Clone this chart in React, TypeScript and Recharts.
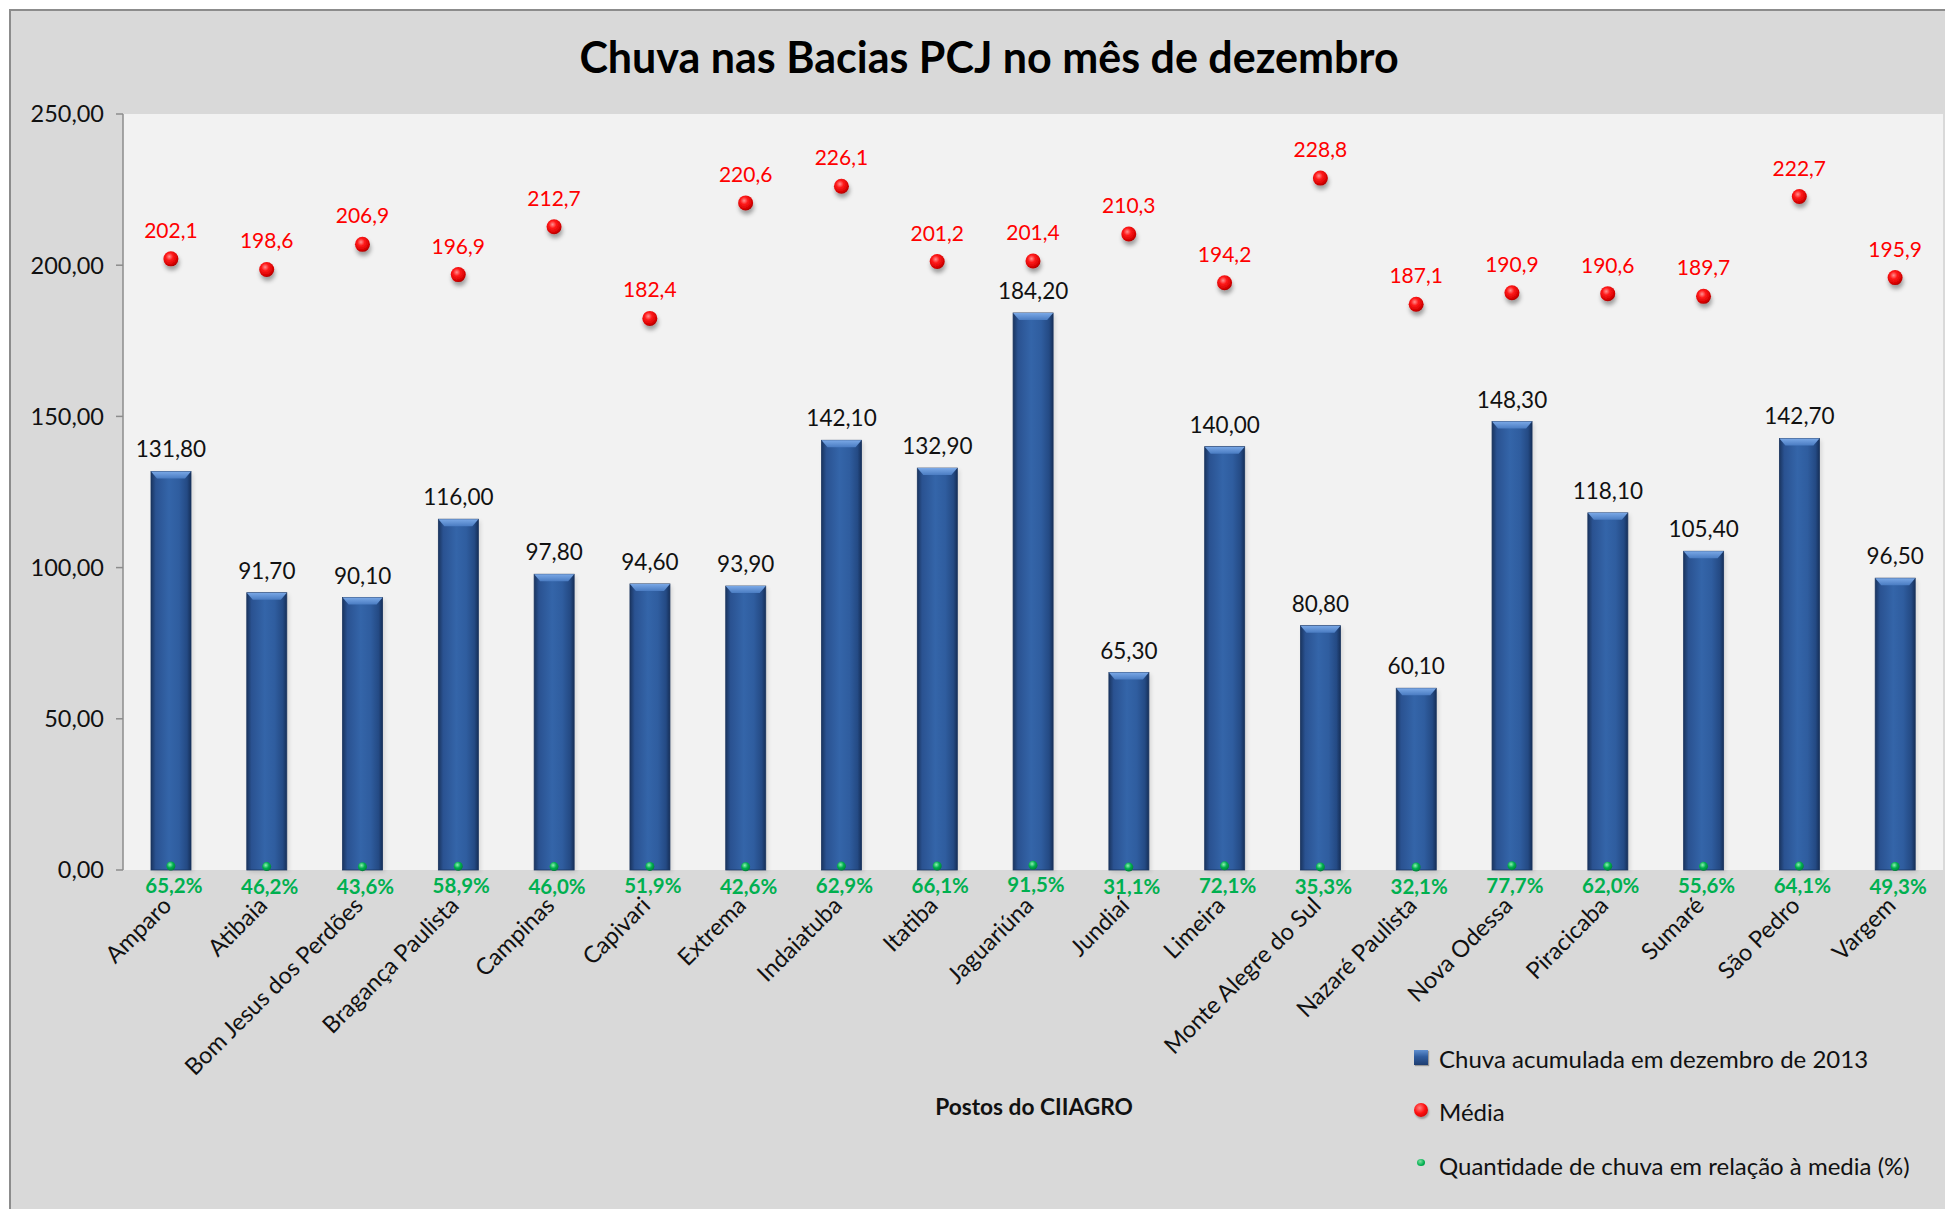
import React from "react";
import {
  Bar,
  CartesianGrid,
  ComposedChart,
  Line,
  XAxis,
  YAxis,
} from "recharts";

const categories = [
  "Amparo",
  "Atibaia",
  "Bom Jesus dos Perdões",
  "Bragança Paulista",
  "Campinas",
  "Capivari",
  "Extrema",
  "Indaiatuba",
  "Itatiba",
  "Jaguariúna",
  "Jundiaí",
  "Limeira",
  "Monte Alegre do Sul",
  "Nazaré Paulista",
  "Nova Odessa",
  "Piracicaba",
  "Sumaré",
  "São Pedro",
  "Vargem",
];

const chuvaDezembro = [
  131.8, 91.7, 90.1, 116.0, 97.8, 94.6, 93.9, 142.1, 132.9, 184.2, 65.3, 140.0,
  80.8, 60.1, 148.3, 118.1, 105.4, 142.7, 96.5,
];

const mediaHistorica = [
  202.1, 198.6, 206.9, 196.9, 212.7, 182.4, 220.6, 226.1, 201.2, 201.4, 210.3,
  194.2, 228.8, 187.1, 190.9, 190.6, 189.7, 222.7, 195.9,
];

const percentual = [
  65.2, 46.2, 43.6, 58.9, 46.0, 51.9, 42.6, 62.9, 66.1, 91.5, 31.1, 72.1, 35.3,
  32.1, 77.7, 62.0, 55.6, 64.1, 49.3,
];

const yTicks = [0, 50, 100, 150, 200, 250];
const boundaryTicks = categories.map((_, i) => i).concat(categories.length);

const data = categories.map((name, i) => ({
  name,
  chuva: chuvaDezembro[i],
  media: mediaHistorica[i],
  pct: percentual[i] / 100,
  pctLabel: percentual[i],
}));

const FONT = "Lato, 'Noto Sans', sans-serif";
const AXIS_GREY = "#8c8c8c";

const br = (v: number, d: number) => v.toFixed(d).replace(".", ",");

const BarShape = (props: any) => {
  const { x, y, width, height, payload } = props;
  if (!width || height == null) return null;
  const bevel = Math.min(7, height / 2);
  return (
    <g>
      <rect
        x={x + 2}
        y={y + 2}
        width={width}
        height={height}
        fill="#000"
        opacity={0.12}
        filter="url(#soft)"
      />
      <rect
        x={x}
        y={y}
        width={width}
        height={height}
        fill="url(#barBody)"
        stroke="#1b355f"
        strokeWidth={0.8}
      />
      <polygon
        points={`${x},${y} ${x + width},${y} ${x + width - 6},${y + bevel} ${x + 6},${y + bevel}`}
        fill="url(#barTop)"
      />
      <text
        x={x + width / 2}
        y={y - 14}
        textAnchor="middle"
        fontFamily={FONT}
        fontSize={22.5}
        fill="#111"
      >
        {br(payload.chuva, 2)}
      </text>
    </g>
  );
};

const MediaDot = (props: any) => {
  const { cx, cy, payload, index } = props;
  if (cx == null || cy == null) return null;
  return (
    <g key={`m-${index}`}>
      <circle cx={cx} cy={cy} r={7.5} fill="url(#redBall)" filter="url(#dotShadow)" />
      <text
        x={cx}
        y={cy - 21}
        textAnchor="middle"
        fontFamily={FONT}
        fontSize={21}
        fill="#ff0000"
      >
        {br(payload.media, 1)}
      </text>
    </g>
  );
};

const PctDot = (props: any) => {
  const { cx, cy, payload, index } = props;
  if (cx == null || cy == null) return null;
  return (
    <g key={`p-${index}`}>
      <circle cx={cx} cy={cy - 2} r={4.5} fill="url(#greenBall)" />
      <text
        x={cx + 3}
        y={cy + 25}
        textAnchor="middle"
        fontFamily={FONT}
        fontWeight={700}
        fontSize={20.5}
        fill="#00b050"
      >
        {br(payload.pctLabel, 1) + "%"}
      </text>
    </g>
  );
};

const CategoryTick = (props: any) => {
  const { x, y, payload } = props;
  const ax = x + 2;
  const ay = y + 37;
  return (
    <text
      x={ax}
      y={ay}
      transform={`rotate(-45, ${ax}, ${ay})`}
      textAnchor="end"
      fontFamily={FONT}
      fontSize={23.5}
      fill="#111"
    >
      {payload.value}
    </text>
  );
};

const legendItems = [
  { label: "Chuva acumulada em dezembro de 2013", kind: "bar", cy: 1059 },
  { label: "Média", kind: "media", cy: 1112 },
  { label: "Quantidade de chuva em relação à media (%)", kind: "pct", cy: 1166 },
];

const LegendIcon = ({ kind }: { kind: string }) => {
  if (kind === "bar")
    return (
      <div
        style={{
          width: 14,
          height: 15,
          marginTop: -4,
          background: "linear-gradient(180deg,#5f8fd0 0%,#2f5c9e 45%,#1e3d70 100%)",
          boxShadow: "1px 1px 1px rgba(0,0,0,0.3)",
        }}
      />
    );
  if (kind === "media")
    return (
      <div
        style={{
          width: 14,
          height: 14,
          marginTop: -4,
          borderRadius: "50%",
          background: "radial-gradient(circle at 40% 35%,#ff8080 0%,#ff1010 45%,#b00000 100%)",
          boxShadow: "1px 2px 2px rgba(0,0,0,0.3)",
        }}
      />
    );
  return (
    <div
      style={{
        width: 8,
        height: 7,
        marginLeft: 3,
        marginTop: -8,
        borderRadius: "50%",
        background: "radial-gradient(circle at 40% 35%,#7de0a0 0%,#00b050 60%,#00803a 100%)",
      }}
    />
  );
};

export default function App() {
  return (
    <div
      style={{
        position: "fixed",
        left: 0,
        top: 0,
        width: 1945,
        height: 1209,
        background: "#ffffff",
        overflow: "hidden",
      }}
    >
      <div
        style={{
          position: "absolute",
          left: 9,
          top: 9,
          width: 1960,
          height: 1230,
          background: "#d9d9d9",
          border: `2px solid ${AXIS_GREY}`,
        }}
      />
      <div
        style={{
          position: "absolute",
          left: 489,
          width: 1000,
          top: 28,
          textAlign: "center",
          fontFamily: FONT,
          fontWeight: 700,
          fontSize: 43,
          lineHeight: "58px",
          color: "#000",
        }}
      >
        Chuva nas Bacias PCJ no mês de dezembro
      </div>
      <div style={{ position: "absolute", left: 0, top: 0 }}>
        <ComposedChart
          width={1945}
          height={1209}
          data={data}
          margin={{ top: 114, right: 2, left: 23, bottom: 139 }}
        >
          <defs>
            <linearGradient id="barBody" x1="0" y1="0" x2="1" y2="0">
              <stop offset="0%" stopColor="#1a3560" />
              <stop offset="12%" stopColor="#2a5291" />
              <stop offset="45%" stopColor="#3465a9" />
              <stop offset="70%" stopColor="#2f5d9f" />
              <stop offset="90%" stopColor="#244a84" />
              <stop offset="100%" stopColor="#16305a" />
            </linearGradient>
            <linearGradient id="barTop" x1="0" y1="0" x2="0" y2="1">
              <stop offset="0%" stopColor="#7aa8e6" />
              <stop offset="100%" stopColor="#4a7cc2" />
            </linearGradient>
            <radialGradient id="redBall" cx="0.4" cy="0.35" r="0.7">
              <stop offset="0%" stopColor="#ff9090" />
              <stop offset="35%" stopColor="#ff1a1a" />
              <stop offset="80%" stopColor="#d40000" />
              <stop offset="100%" stopColor="#9a0000" />
            </radialGradient>
            <radialGradient id="greenBall" cx="0.4" cy="0.35" r="0.7">
              <stop offset="0%" stopColor="#8ff0b0" />
              <stop offset="50%" stopColor="#00b050" />
              <stop offset="100%" stopColor="#007a35" />
            </radialGradient>
            <filter id="dotShadow" x="-50%" y="-50%" width="200%" height="250%">
              <feDropShadow dx="1" dy="4" stdDeviation="2" floodColor="#000" floodOpacity="0.35" />
            </filter>
            <filter id="soft" x="-20%" y="-5%" width="140%" height="110%">
              <feGaussianBlur stdDeviation="2" />
            </filter>
          </defs>
          <CartesianGrid horizontal={false} vertical={false} fill="#f2f2f2" />
          <XAxis
            xAxisId="bounds"
            type="number"
            domain={[0, categories.length]}
            ticks={boundaryTicks}
            tick={false}
            height={0}
            tickSize={8}
            axisLine={{ stroke: AXIS_GREY, strokeWidth: 1.5 }}
            tickLine={{ stroke: AXIS_GREY, strokeWidth: 1.5 }}
            allowDataOverflow
          />
          <XAxis
            dataKey="name"
            interval={0}
            height={200}
            axisLine={false}
            tickLine={false}
            tickSize={0}
            tickMargin={0}
            tick={<CategoryTick />}
          />
          <YAxis
            domain={[0, 250]}
            ticks={yTicks}
            width={100}
            tickFormatter={(v) => br(Number(v), 2)}
            tick={{ fill: "#111", fontSize: 23.5, fontFamily: FONT }}
            axisLine={{ stroke: AXIS_GREY, strokeWidth: 1.5 }}
            tickLine={{ stroke: AXIS_GREY, strokeWidth: 1.5 }}
            tickSize={7}
            tickMargin={12}
          />
          <Bar
            dataKey="chuva"
            barSize={40}
            shape={<BarShape />}
            isAnimationActive={false}
          />
          <Line
            dataKey="media"
            stroke="none"
            dot={<MediaDot />}
            activeDot={false}
            isAnimationActive={false}
          />
          <Line
            dataKey="pct"
            stroke="none"
            dot={<PctDot />}
            activeDot={false}
            isAnimationActive={false}
          />
        </ComposedChart>
      </div>
      <div
        style={{
          position: "absolute",
          left: 884,
          width: 300,
          top: 1093,
          textAlign: "center",
          fontFamily: FONT,
          fontWeight: 700,
          fontSize: 22.7,
          lineHeight: "28px",
          color: "#111",
        }}
      >
        Postos do CIIAGRO
      </div>
      {legendItems.map((it) => (
        <div
          key={it.kind}
          style={{
            position: "absolute",
            left: 1414,
            top: it.cy - 15,
            height: 30,
            display: "flex",
            alignItems: "center",
          }}
        >
          <div style={{ width: 25, display: "flex", alignItems: "center" }}>
            <LegendIcon kind={it.kind} />
          </div>
          <span
            style={{
              fontFamily: FONT,
              fontSize: 24,
              color: "#111",
              lineHeight: "30px",
              whiteSpace: "nowrap",
            }}
          >
            {it.label}
          </span>
        </div>
      ))}
    </div>
  );
}
